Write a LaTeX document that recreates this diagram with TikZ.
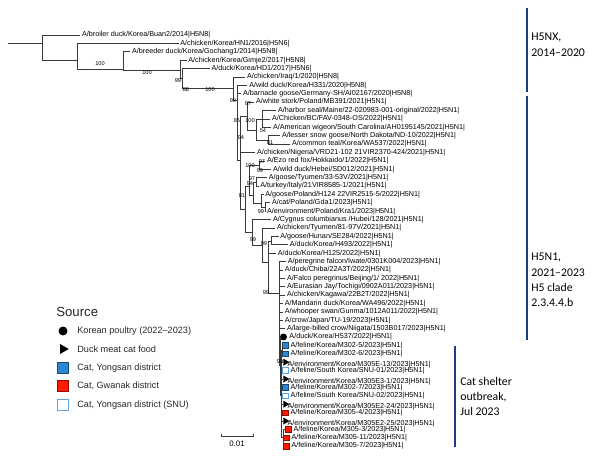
\documentclass[tikz,border=0pt]{standalone}
\usepackage{fontspec}
\setmainfont{Liberation Sans}
\newfontfamily\calibri{Carlito}
\usetikzlibrary{positioning,shapes.geometric}
\definecolor{barNavy}{HTML}{1D3C86}
\definecolor{catBlue}{HTML}{2B86D6}
\definecolor{catRed}{HTML}{FF1A00}
\definecolor{snuBlue}{HTML}{5AA6E6}
\definecolor{brGray}{HTML}{3A3A3A}

\tikzset{
  leaf/.style={anchor=west, inner xsep=0.8pt, inner ysep=0pt, font=\fontsize{4.1}{4.1}\selectfont},
  br/.style={draw=brGray, line width=0.35pt},
  boot/.style={inner sep=0pt, font=\fontsize{3.2}{3.2}\selectfont},
  poultry/.style={circle, fill=black, inner sep=0pt, minimum size=#1},
  poultry/.default=0.14cm,
  catfood/.style={regular polygon, regular polygon sides=3, rotate=-90, fill=black, inner sep=0pt, minimum size=#1},
  catfood/.default=0.16cm,
  yongsan/.style={rectangle, fill=catBlue, draw=catBlue!55!black, line width=0.2pt, inner sep=0pt, minimum size=#1},
  yongsan/.default=0.115cm,
  gwanak/.style={rectangle, fill=catRed, draw=catRed!55!black, line width=0.2pt, inner sep=0pt, minimum size=#1},
  gwanak/.default=0.115cm,
  snu/.style={rectangle, fill=white, draw=snuBlue, line width=0.4pt, inner sep=0pt, minimum size=#1},
  snu/.default=0.11cm,
  legtext/.style={anchor=west, inner sep=0pt, font=\fontsize{5.2}{5.2}\selectfont, text=black!85},
  grp/.style={anchor=north west, inner sep=0pt, align=left, font=\calibri\fontsize{6.7}{8.6}\selectfont},
  cladebar/.style={draw=barNavy, line width=1.7pt}
}

\begin{document}
\begin{tikzpicture}[x=0.02cm, y=-0.02cm]
  \useasboundingbox (0,0) rectangle (600,463);

  % leaves
  \node[leaf] (l1) at (80.3,35.0) {A/broiler duck/Korea/Buan2/2014|H5N8|};
  \node[leaf] (l2) at (178.6,43.4) {A/chicken/Korea/HN1/2016|H5N6|};
  \node[leaf] (l3) at (130.3,51.8) {A/breeder duck/Korea/Gochang1/2014|H5N8|};
  \node[leaf] (l4) at (186.6,60.2) {A/chicken/Korea/Gimje2/2017|H5N8|};
  \node[leaf] (l5) at (209.8,68.6) {A/duck/Korea/HD1/2017|H5N6|};
  \node[leaf] (l6) at (245.3,77.0) {A/chicken/Iraq/1/2020|H5N8|};
  \node[leaf] (l7) at (247.5,85.3) {A/wild duck/Korea/H331/2020|H5N8|};
  \node[leaf] (l8) at (241.3,93.7) {A/barnacle goose/Germany-SH/AI02167/2020|H5N8|};
  \node[leaf] (l9) at (254.3,102.1) {A/white stork/Poland/MB391/2021|H5N1|};
  \node[leaf] (l10) at (276.3,110.5) {A/harbor seal/Maine/22-020983-001-original/2022|H5N1|};
  \node[leaf] (l11) at (270.3,118.9) {A/Chicken/BC/FAV-0348-OS/2022|H5N1|};
  \node[leaf] (l12) at (271.3,127.3) {A/American wigeon/South Carolina/AH0195145/2021|H5N1|};
  \node[leaf] (l13) at (280.3,135.7) {A/lesser snow goose/North Dakota/ND-10/2022|H5N1|};
  \node[leaf] (l14) at (290.3,144.1) {A/common teal/Korea/WA537/2022|H5N1|};
  \node[leaf] (l15) at (255.3,152.5) {A/chicken/Nigeria/VRD21-102 21VIR2370-424/2021|H5N1|};
  \node[leaf] (l16) at (265.3,160.9) {A/Ezo red fox/Hokkaido/1/2022|H5N1|};
  \node[leaf] (l17) at (271.3,169.2) {A/wild duck/Hebei/SD012/2021|H5N1|};
  \node[leaf] (l18) at (267.0,177.6) {A/goose/Tyumen/33-53V/2021|H5N1|};
  \node[leaf] (l19) at (258.6,186.0) {A/turkey/Italy/21VIR8585-1/2021|H5N1|};
  \node[leaf] (l20) at (263.6,194.4) {A/goose/Poland/H124 22VIR2515-5/2022|H5N1|};
  \node[leaf] (l21) at (270.3,202.8) {A/cat/Poland/Gda1/2023|H5N1|};
  \node[leaf] (l22) at (265.3,211.2) {A/environment/Poland/Kra1/2023|H5N1|};
  \node[leaf] (l23) at (271.3,219.6) {A/Cygnus columbianus /Hubei/128/2021|H5N1|};
  \node[leaf] (l24) at (275.3,228.0) {A/chicken/Tyumen/81-97V/2021|H5N1|};
  \node[leaf] (l25) at (278.6,236.4) {A/goose/Hunan/SE284/2022|H5N1|};
  \node[leaf] (l26) at (288.0,244.8) {A/duck/Korea/H493/2022|H5N1|};
  \node[leaf] (l27) at (276.0,253.2) {A/duck/Korea/H125/2022|H5N1|};
  \node[leaf] (l28) at (286.0,261.5) {A/peregrine falcon/Iwate/0301K004/2023|H5N1|};
  \node[leaf] (l29) at (283.0,269.9) {A/duck/Chiba/22A3T/2022|H5N1|};
  \node[leaf] (l30) at (285.3,278.3) {A/Falco peregrinus/Beijing/1/ 2022|H5N1|};
  \node[leaf] (l31) at (285.3,286.7) {A/Eurasian Jay/Tochigi/0902A011/2023|H5N1|};
  \node[leaf] (l32) at (285.3,295.1) {A/chicken/Kagawa/22B2T/2022|H5N1|};
  \node[leaf] (l33) at (283.0,303.5) {A/Mandarin duck/Korea/WA496/2022|H5N1|};
  \node[leaf] (l34) at (283.0,311.9) {A/whooper swan/Gunma/1012A011/2022|H5N1|};
  \node[leaf] (l35) at (283.0,320.3) {A/crow/Japan/TU-19/2023|H5N1|};
  \node[leaf] (l36) at (285.3,328.7) {A/large-billed crow/Niigata/1503B017/2023|H5N1|};

  % marked leaves (Korean poultry, cat food, cats)
  \node[poultry] (m37) at (283.5,337.0) {};
  \node[yongsan] (m38) at (285.5,345.4) {};
  \node[yongsan] (m39) at (285.5,353.8) {};
  \node[catfood] (m40) at (285.5,362.2) {};
  \node[snu] (m41) at (285.5,370.6) {};
  \node[catfood] (m42) at (285.5,379.0) {};
  \node[yongsan] (m43) at (285.5,387.4) {};
  \node[snu] (m44) at (285.5,395.8) {};
  \node[catfood] (m45) at (285.5,404.2) {};
  \node[gwanak] (m46) at (285.5,412.6) {};
  \node[catfood] (m47) at (285.5,421.0) {};
  \node[gwanak] (m48) at (288.5,429.3) {};
  \node[gwanak] (m49) at (286.5,437.7) {};
  \node[gwanak] (m50) at (286.5,446.1) {};
  \node[leaf, right=0.2pt of m37] (l37) {A/duck/Korea/H537/2022|H5N1|};
  \node[leaf, right=0.2pt of m38] (l38) {A/feline/Korea/M302-5/2023|H5N1|};
  \node[leaf, right=0.2pt of m39] (l39) {A/feline/Korea/M302-6/2023|H5N1|};
  \node[leaf, right=0.2pt of m40] (l40) {A/environment/Korea/M305E-13/2023|H5N1|};
  \node[leaf, right=0.2pt of m41] (l41) {A/feline/South Korea/SNU-01/2023|H5N1|};
  \node[leaf, right=0.2pt of m42] (l42) {A/environment/Korea/M305E3-1/2023|H5N1|};
  \node[leaf, right=0.2pt of m43] (l43) {A/feline/Korea/M302-7/2023|H5N1|};
  \node[leaf, right=0.2pt of m44] (l44) {A/feline/South Korea/SNU-02/2023|H5N1|};
  \node[leaf, right=0.2pt of m45] (l45) {A/environment/Korea/M305E2-24/2023|H5N1|};
  \node[leaf, right=0.2pt of m46] (l46) {A/feline/Korea/M305-4/2023|H5N1|};
  \node[leaf, right=0.2pt of m47] (l47) {A/environment/Korea/M305E2-25/2023|H5N1|};
  \node[leaf, right=0.2pt of m48] (l48) {A/feline/Korea/M305-3/2023|H5N1|};
  \node[leaf, right=0.2pt of m49] (l49) {A/feline/Korea/M305-11/2023|H5N1|};
  \node[leaf, right=0.2pt of m50] (l50) {A/feline/Korea/M305-7/2023|H5N1|};

  % internal nodes
  \coordinate (root) at (8,43);
  \coordinate (A) at (42,43);
  \coordinate (B) at (77,60);
  \coordinate (C) at (123,69);
  \coordinate (D) at (180,70);
  \coordinate (D2) at (182,78);
  \coordinate (E) at (233,88);
  \coordinate (F) at (237,100);
  \coordinate (G) at (240,160);
  \coordinate (G2) at (247,116);
  \coordinate (H) at (256,130);
  \coordinate (H1) at (262,119);
  \coordinate (H2) at (268,140);
  \coordinate (L) at (245,209);
  \coordinate (K) at (249,186);
  \coordinate (K1) at (259,165);
  \coordinate (K2) at (253,195);
  \coordinate (K3) at (256,182);
  \coordinate (K4) at (261,203);
  \coordinate (K5) at (265,207);
  \coordinate (L2) at (252,232);
  \coordinate (M) at (262,245);
  \coordinate (N) at (268,262);
  \coordinate (N1) at (271,241);
  \coordinate (Q) at (279,293);
  \coordinate (R) at (280.5,365);
  \coordinate (S) at (281.5,395);
  \coordinate (S1) at (282.3,350);
  \coordinate (S2) at (283,437);

  % branches
  \draw[br] (root) -- (A);
  \foreach \p/\c in {A/l1, A/B, B/l2, B/C, C/l3, C/D, D/l4, D/D2, D2/l5, D2/E,
      E/l6, E/F, F/l7, F/l8, F/G, G/G2, G/l15, G/L, G2/l9, G2/H, H/H1, H/H2,
      H1/l10, H1/l11, H1/l12, H2/l13, H2/l14, L/K, L/L2, K/K1, K/K2, K1/l16, K1/l17,
      K2/K3, K2/K4, K3/l18, K3/l19, K4/l20, K4/K5, K5/l21, K5/l22, L2/l23, L2/M,
      M/l24, M/N, N/N1, N/l27, N/Q, N1/l25, N1/l26,
      Q/l28, Q/l29, Q/l30, Q/l31, Q/l32, Q/l33, Q/l34, Q/l35, Q/l36, Q/R,
      R/m37, R/S, S/S1, S/m40, S/m41, S/m42, S/m43, S/m44, S/m45, S/m46, S/m47, S/S2,
      S1/m38, S1/m39, S2/m48, S2/m49, S2/m50}
    \draw[br] (\p) |- (\c);

  % bootstrap values
  \foreach \x/\y/\v in {100/64/100, 147/73/100, 178/81/99, 186/90/88, 210/90/100,
      233/101/99, 248/104/97, 237/121/85, 250/121/100, 241/138/94, 263/131/54,
      270/143/81, 262/162/97, 250/166/100, 260/171/99, 252/179/97, 250/184/94,
      242/196/81, 261/212/99, 253/240/99, 264/244/99, 266/293/99, 280/362/99}
    \node[boot] at (\x,\y) {\v};

  % scale bar
  \coordinate (sb1) at (221,436);
  \coordinate (sb2) at (253,436);
  \draw[br] (sb1) -- (sb2);
  \draw[br] ([yshift=-1.5*0.02cm]sb1) -- ([yshift=1.5*0.02cm]sb1);
  \draw[br] ([yshift=-1.5*0.02cm]sb2) -- ([yshift=1.5*0.02cm]sb2);
  \node[inner sep=0pt, font=\fontsize{4.5}{4.5}\selectfont] (sbl) at (237,443.5) {0.01};

  % clade bars
  \draw[cladebar] (527,8) -- (527,92);
  \draw[cladebar] (527,96) -- (527,340);
  \draw[cladebar] (455,346) -- (455,447);
  \node[grp] (h5nx) at (531,33) {H5NX,\\2014–2020};
  \node[grp] (h5n1) at (531,253) {H5N1,\\2021–2023\\H5 clade\\2.3.4.4.b};
  \node[grp] (shelter) at (460,377) {Cat shelter\\outbreak,\\Jul 2023};

  % legend
  \node[anchor=west, inner sep=0pt, font=\fontsize{7.5}{7.5}\selectfont, text=black!85] (src) at (56,312) {Source};
  \node[poultry=0.18cm] (kp) at (63,331) {};
  \node[catfood=0.23cm] (df) at (63,349) {};
  \node[yongsan=0.22cm] (cy) at (63,368) {};
  \node[gwanak=0.22cm] (cg) at (63,386) {};
  \node[snu=0.22cm] (cs) at (63,405) {};
  \node[legtext] (kpt) at (77,331) {Korean poultry (2022–2023)};
  \node[legtext] (dft) at (77,349) {Duck meat cat food};
  \node[legtext] (cyt) at (77,368) {Cat, Yongsan district};
  \node[legtext] (cgt) at (77,386) {Cat, Gwanak district};
  \node[legtext] (cst) at (77,405) {Cat, Yongsan district (SNU)};
\end{tikzpicture}
\end{document}
